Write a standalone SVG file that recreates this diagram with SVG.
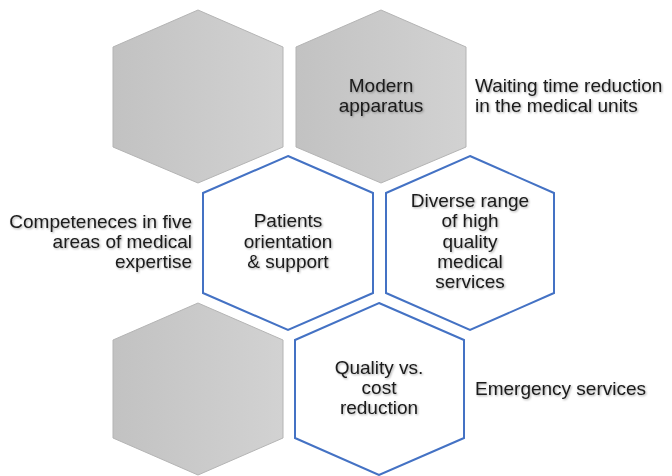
<svg xmlns="http://www.w3.org/2000/svg" width="672" height="476" viewBox="0 0 672 476">
  <defs>
    <linearGradient id="gray" x1="0" y1="0" x2="1" y2="0">
      <stop offset="0" stop-color="#c2c2c2"/>
      <stop offset="1" stop-color="#d2d2d2"/>
    </linearGradient>
    <filter id="sh" x="-10%" y="-20%" width="120%" height="140%">
      <feDropShadow dx="1" dy="1" stdDeviation="0.8" flood-color="#000" flood-opacity="0.35"/>
    </filter>
  </defs>
  <style>
    .g { fill: url(#gray); stroke: #b4b4b4; stroke-width: 1; }
    .b { fill: #ffffff; stroke: #4472c4; stroke-width: 2; }
    text { font-family: "Liberation Sans", Arial, sans-serif; font-size: 19px; fill: #1a1a1a; filter: url(#sh); }
    .c { text-anchor: middle; }
    .r { text-anchor: end; }
  </style>
  <rect width="672" height="476" fill="#ffffff"/>
  <g id="hex-top-left">
    <polygon class="g" points="198,10 283,47 283,147 198,183 113,147 113,47"/>
  </g>
  <g id="hex-modern-apparatus">
    <polygon class="g" points="381,10 466,47 466,147 381,183 296,147 296,47"/>
    <text class="c" x="381" y="92">Modern</text>
    <text class="c" x="381" y="112">apparatus</text>
  </g>
  <g id="hex-patients">
    <polygon class="b" points="288,156 373,193 373,293 288,330 203,293 203,193"/>
    <text class="c" x="288" y="227">Patients</text>
    <text class="c" x="288" y="248">orientation</text>
    <text class="c" x="288" y="268">&amp; support</text>
  </g>
  <g id="hex-diverse">
    <polygon class="b" points="470,156 554,193 554,293 470,330 386,293 386,193"/>
    <text class="c" x="470" y="207">Diverse range</text>
    <text class="c" x="470" y="227">of high</text>
    <text class="c" x="470" y="248">quality</text>
    <text class="c" x="470" y="268">medical</text>
    <text class="c" x="470" y="288">services</text>
  </g>
  <g id="hex-bottom-left">
    <polygon class="g" points="198,303 283,340 283,438 198,475 113,438 113,340"/>
  </g>
  <g id="hex-quality">
    <polygon class="b" points="379,303 464,340 464,438 379,475 295,438 295,340"/>
    <text class="c" x="379" y="374">Quality vs.</text>
    <text class="c" x="379" y="394">cost</text>
    <text class="c" x="379" y="414">reduction</text>
  </g>
  <g id="label-waiting">
    <text x="475" y="92">Waiting time reduction</text>
    <text x="475" y="112">in the medical units</text>
  </g>
  <g id="label-competences">
    <text class="r" x="192" y="228">Competeneces in five</text>
    <text class="r" x="192" y="248">areas of medical</text>
    <text class="r" x="192" y="268">expertise</text>
  </g>
  <g id="label-emergency">
    <text x="475" y="395">Emergency services</text>
  </g>
  <g id="connectors"></g>
</svg>
